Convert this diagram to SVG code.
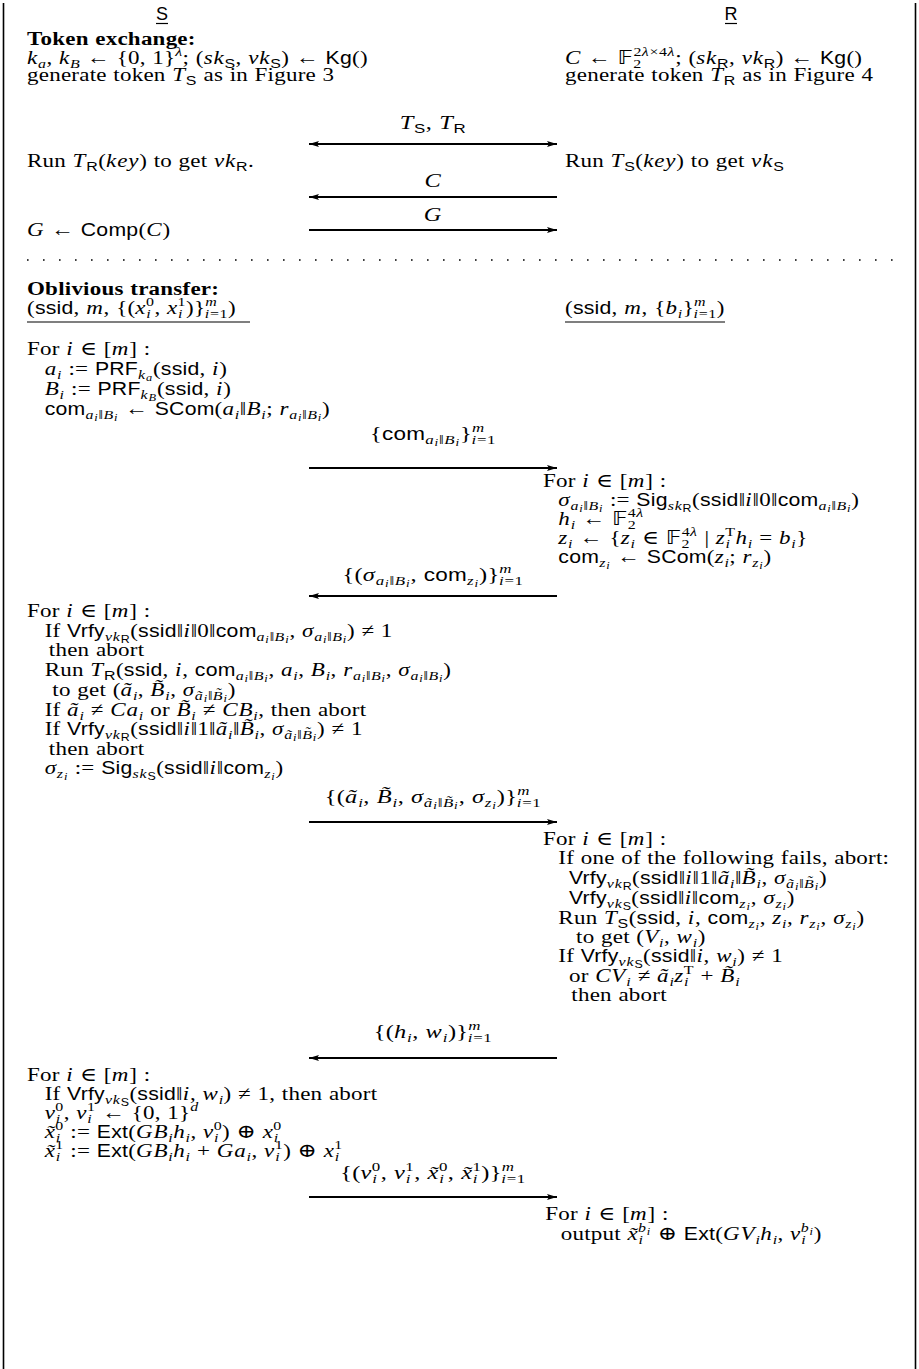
<svg xmlns="http://www.w3.org/2000/svg" width="919" height="1369" viewBox="0 0 919 1369">
<style>
text{font-family:"Liberation Serif","DejaVu Serif",serif;font-size:19.5px;fill:#000;letter-spacing:0.2px;word-spacing:0.5px}
.i{font-style:italic;letter-spacing:0.7px}
.b{font-weight:bold}
.F{font-family:"Liberation Sans","DejaVu Sans",sans-serif;font-size:18px}
.f{font-family:"Liberation Sans","DejaVu Sans",sans-serif}
.s{font-size:13.5px;baseline-shift:-4px;letter-spacing:0.4px}
.p{font-size:13.5px;baseline-shift:8px;letter-spacing:0.4px}
.ss{font-size:10.5px;baseline-shift:-2.5px}
.bb{font-family:"DejaVu Sans",sans-serif}
.lab{text-anchor:middle}
.rule{stroke:#000;stroke-width:1.2}
.msg{stroke:#000;stroke-width:2;fill:none}
.frame{stroke:#000;stroke-width:1.6}
</style>
<defs>
<marker id="ah" viewBox="0 0 10 6" refX="10" refY="3" markerWidth="10" markerHeight="6" markerUnits="userSpaceOnUse" orient="auto-start-reverse"><path d="M0,0 L10,3 L0,6 L2,3 z" fill="#000"/></marker>
</defs>
<rect width="919" height="1369" fill="#fff"/>
<g id="frame">
<line class="frame" x1="3.5" y1="3" x2="3.5" y2="1369"/>
<line class="frame" x1="915.5" y1="3" x2="915.5" y2="1369"/>
<line x1="27" y1="260" x2="906" y2="260" stroke="#000" stroke-width="1.6" stroke-dasharray="1.6 14.4"/>
</g>
<g id="party-S">
<text x="162" y="20" class="F lab">S</text>
<line class="rule" x1="156" y1="23.5" x2="168" y2="23.5"/>
</g>
<g id="party-R">
<text x="731" y="20" class="F lab">R</text>
<line class="rule" x1="725" y1="23.5" x2="737" y2="23.5"/>
</g>
<g id="S-token-exchange" transform="matrix(1.18 0 0 1 -4.86 0)">
<text x="27" y="45" class="b">Token exchange:</text>
<text x="27" y="64"><tspan class="i">k</tspan><tspan class="s i">a</tspan>, <tspan class="i">k</tspan><tspan class="s i">B</tspan> ← {0, 1}<tspan class="p i">λ</tspan>; (<tspan class="i">sk</tspan><tspan class="s f">S</tspan>, <tspan class="i">vk</tspan><tspan class="s f">S</tspan>) ← <tspan class="F">Kg</tspan>()</text>
<text x="27" y="81">generate token <tspan class="i">T</tspan><tspan class="s f">S</tspan> as in Figure 3</text>
<text x="27" y="167">Run <tspan class="i">T</tspan><tspan class="s f">R</tspan>(<tspan class="i">key</tspan>) to get <tspan class="i">vk</tspan><tspan class="s f">R</tspan>.</text>
<text x="27" y="236"><tspan class="i">G</tspan> ← <tspan class="F">Comp</tspan>(<tspan class="i">C</tspan>)</text>
</g>
<g id="R-token-exchange" transform="matrix(1.18 0 0 1 -101.7 0)">
<text x="565" y="64"><tspan class="i">C</tspan> ← <tspan class="bb">𝔽</tspan><tspan class="s">2</tspan><tspan class="p" dx="-7">2<tspan class="i">λ</tspan>×4<tspan class="i">λ</tspan></tspan>; (<tspan class="i">sk</tspan><tspan class="s f">R</tspan>, <tspan class="i">vk</tspan><tspan class="s f">R</tspan>) ← <tspan class="F">Kg</tspan>()</text>
<text x="565" y="81">generate token <tspan class="i">T</tspan><tspan class="s f">R</tspan> as in Figure 4</text>
<text x="565" y="167">Run <tspan class="i">T</tspan><tspan class="s f">S</tspan>(<tspan class="i">key</tspan>) to get <tspan class="i">vk</tspan><tspan class="s f">S</tspan></text>
</g>
<g id="S-ot-input">
<g transform="matrix(1.18 0 0 1 -4.86 0)">
<text x="27" y="295" class="b">Oblivious transfer:</text>
<text x="27" y="314">(<tspan class="F">ssid</tspan>, <tspan class="i">m</tspan>, {(<tspan class="i">x</tspan><tspan class="s i">i</tspan><tspan class="p" dx="-4.5">0</tspan>, <tspan class="i">x</tspan><tspan class="s i">i</tspan><tspan class="p" dx="-4.5">1</tspan>)}<tspan class="p i">m</tspan><tspan class="s" dx="-10.5"><tspan class="i">i</tspan>=1</tspan>)</text>
</g>
<line class="rule" x1="27" y1="322" x2="250" y2="322"/>
</g>
<g id="R-ot-input">
<text x="565" y="314" transform="matrix(1.18 0 0 1 -101.7 0)">(<tspan class="F">ssid</tspan>, <tspan class="i">m</tspan>, {<tspan class="i">b</tspan><tspan class="s i">i</tspan>}<tspan class="p i">m</tspan><tspan class="s" dx="-10.5"><tspan class="i">i</tspan>=1</tspan>)</text>
<line class="rule" x1="565" y1="322" x2="725" y2="322"/>
</g>
<g id="S-commit" transform="matrix(1.18 0 0 1 -4.86 0)">
<text x="27" y="355">For <tspan class="i">i</tspan> ∈ [<tspan class="i">m</tspan>] :</text>
<text x="42" y="375"><tspan class="i">a</tspan><tspan class="s i">i</tspan> := <tspan class="F">PRF</tspan><tspan class="s"><tspan class="i">k</tspan><tspan class="ss i">a</tspan></tspan>(<tspan class="F">ssid</tspan>, <tspan class="i">i</tspan>)</text>
<text x="42" y="395"><tspan class="i">B</tspan><tspan class="s i">i</tspan> := <tspan class="F">PRF</tspan><tspan class="s"><tspan class="i">k</tspan><tspan class="ss i">B</tspan></tspan>(<tspan class="F">ssid</tspan>, <tspan class="i">i</tspan>)</text>
<text x="42" y="415"><tspan class="F">com</tspan><tspan class="s"><tspan class="i">a</tspan><tspan class="ss i">i</tspan>‖<tspan class="i">B</tspan><tspan class="ss i">i</tspan></tspan> ← <tspan class="F">SCom</tspan>(<tspan class="i">a</tspan><tspan class="s i">i</tspan>‖<tspan class="i">B</tspan><tspan class="s i">i</tspan>; <tspan class="i">r</tspan><tspan class="s"><tspan class="i">a</tspan><tspan class="ss i">i</tspan>‖<tspan class="i">B</tspan><tspan class="ss i">i</tspan></tspan>)</text>
</g>
<g id="R-sign" transform="matrix(1.18 0 0 1 -97.74 0)">
<text x="543" y="487">For <tspan class="i">i</tspan> ∈ [<tspan class="i">m</tspan>] :</text>
<text x="556" y="506"><tspan class="i">σ</tspan><tspan class="s"><tspan class="i">a</tspan><tspan class="ss i">i</tspan>‖<tspan class="i">B</tspan><tspan class="ss i">i</tspan></tspan> := <tspan class="F">Sig</tspan><tspan class="s"><tspan class="i">sk</tspan><tspan class="ss f">R</tspan></tspan>(<tspan class="F">ssid</tspan>‖<tspan class="i">i</tspan>‖0‖<tspan class="F">com</tspan><tspan class="s"><tspan class="i">a</tspan><tspan class="ss i">i</tspan>‖<tspan class="i">B</tspan><tspan class="ss i">i</tspan></tspan>)</text>
<text x="556" y="525"><tspan class="i">h</tspan><tspan class="s i">i</tspan> ← <tspan class="bb">𝔽</tspan><tspan class="s">2</tspan><tspan class="p" dx="-7">4<tspan class="i">λ</tspan></tspan></text>
<text x="556" y="544"><tspan class="i">z</tspan><tspan class="s i">i</tspan> ← {<tspan class="i">z</tspan><tspan class="s i">i</tspan> ∈ <tspan class="bb">𝔽</tspan><tspan class="s">2</tspan><tspan class="p" dx="-7">4<tspan class="i">λ</tspan></tspan> | <tspan class="i">z</tspan><tspan class="s i">i</tspan><tspan class="p" dx="-4.5">T</tspan><tspan class="i">h</tspan><tspan class="s i">i</tspan> = <tspan class="i">b</tspan><tspan class="s i">i</tspan>}</text>
<text x="556" y="563"><tspan class="F">com</tspan><tspan class="s"><tspan class="i">z</tspan><tspan class="ss i">i</tspan></tspan> ← <tspan class="F">SCom</tspan>(<tspan class="i">z</tspan><tspan class="s i">i</tspan>; <tspan class="i">r</tspan><tspan class="s"><tspan class="i">z</tspan><tspan class="ss i">i</tspan></tspan>)</text>
</g>
<g id="S-verify" transform="matrix(1.18 0 0 1 -4.86 0)">
<text x="27" y="617">For <tspan class="i">i</tspan> ∈ [<tspan class="i">m</tspan>] :</text>
<text x="42" y="637">If <tspan class="F">Vrfy</tspan><tspan class="s"><tspan class="i">vk</tspan><tspan class="ss f">R</tspan></tspan>(<tspan class="F">ssid</tspan>‖<tspan class="i">i</tspan>‖0‖<tspan class="F">com</tspan><tspan class="s"><tspan class="i">a</tspan><tspan class="ss i">i</tspan>‖<tspan class="i">B</tspan><tspan class="ss i">i</tspan></tspan>, <tspan class="i">σ</tspan><tspan class="s"><tspan class="i">a</tspan><tspan class="ss i">i</tspan>‖<tspan class="i">B</tspan><tspan class="ss i">i</tspan></tspan>) ≠ 1</text>
<text x="45.5" y="656">then abort</text>
<text x="42" y="676">Run <tspan class="i">T</tspan><tspan class="s f">R</tspan>(<tspan class="F">ssid</tspan>, <tspan class="i">i</tspan>, <tspan class="F">com</tspan><tspan class="s"><tspan class="i">a</tspan><tspan class="ss i">i</tspan>‖<tspan class="i">B</tspan><tspan class="ss i">i</tspan></tspan>, <tspan class="i">a</tspan><tspan class="s i">i</tspan>, <tspan class="i">B</tspan><tspan class="s i">i</tspan>, <tspan class="i">r</tspan><tspan class="s"><tspan class="i">a</tspan><tspan class="ss i">i</tspan>‖<tspan class="i">B</tspan><tspan class="ss i">i</tspan></tspan>, <tspan class="i">σ</tspan><tspan class="s"><tspan class="i">a</tspan><tspan class="ss i">i</tspan>‖<tspan class="i">B</tspan><tspan class="ss i">i</tspan></tspan>)</text>
<text x="48.5" y="696">to get (<tspan class="i">ã</tspan><tspan class="s i">i</tspan>, <tspan class="i">B̃</tspan><tspan class="s i">i</tspan>, <tspan class="i">σ</tspan><tspan class="s"><tspan class="i">ã</tspan><tspan class="ss i">i</tspan>‖<tspan class="i">B̃</tspan><tspan class="ss i">i</tspan></tspan>)</text>
<text x="42" y="716">If <tspan class="i">ã</tspan><tspan class="s i">i</tspan> ≠ <tspan class="i">Ca</tspan><tspan class="s i">i</tspan> or <tspan class="i">B̃</tspan><tspan class="s i">i</tspan> ≠ <tspan class="i">CB</tspan><tspan class="s i">i</tspan>, then abort</text>
<text x="42" y="735">If <tspan class="F">Vrfy</tspan><tspan class="s"><tspan class="i">vk</tspan><tspan class="ss f">R</tspan></tspan>(<tspan class="F">ssid</tspan>‖<tspan class="i">i</tspan>‖1‖<tspan class="i">ã</tspan><tspan class="s i">i</tspan>‖<tspan class="i">B̃</tspan><tspan class="s i">i</tspan>, <tspan class="i">σ</tspan><tspan class="s"><tspan class="i">ã</tspan><tspan class="ss i">i</tspan>‖<tspan class="i">B̃</tspan><tspan class="ss i">i</tspan></tspan>) ≠ 1</text>
<text x="45.5" y="755">then abort</text>
<text x="42" y="774"><tspan class="i">σ</tspan><tspan class="s"><tspan class="i">z</tspan><tspan class="ss i">i</tspan></tspan> := <tspan class="F">Sig</tspan><tspan class="s"><tspan class="i">sk</tspan><tspan class="ss f">S</tspan></tspan>(<tspan class="F">ssid</tspan>‖<tspan class="i">i</tspan>‖<tspan class="F">com</tspan><tspan class="s"><tspan class="i">z</tspan><tspan class="ss i">i</tspan></tspan>)</text>
</g>
<g id="R-check" transform="matrix(1.18 0 0 1 -97.74 0)">
<text x="543" y="845">For <tspan class="i">i</tspan> ∈ [<tspan class="i">m</tspan>] :</text>
<text x="556" y="864">If one of the following fails, abort:</text>
<text x="565" y="884"><tspan class="F">Vrfy</tspan><tspan class="s"><tspan class="i">vk</tspan><tspan class="ss f">R</tspan></tspan>(<tspan class="F">ssid</tspan>‖<tspan class="i">i</tspan>‖1‖<tspan class="i">ã</tspan><tspan class="s i">i</tspan>‖<tspan class="i">B̃</tspan><tspan class="s i">i</tspan>, <tspan class="i">σ</tspan><tspan class="s"><tspan class="i">ã</tspan><tspan class="ss i">i</tspan>‖<tspan class="i">B̃</tspan><tspan class="ss i">i</tspan></tspan>)</text>
<text x="565" y="904"><tspan class="F">Vrfy</tspan><tspan class="s"><tspan class="i">vk</tspan><tspan class="ss f">S</tspan></tspan>(<tspan class="F">ssid</tspan>‖<tspan class="i">i</tspan>‖<tspan class="F">com</tspan><tspan class="s"><tspan class="i">z</tspan><tspan class="ss i">i</tspan></tspan>, <tspan class="i">σ</tspan><tspan class="s"><tspan class="i">z</tspan><tspan class="ss i">i</tspan></tspan>)</text>
<text x="556" y="924">Run <tspan class="i">T</tspan><tspan class="s f">S</tspan>(<tspan class="F">ssid</tspan>, <tspan class="i">i</tspan>, <tspan class="F">com</tspan><tspan class="s"><tspan class="i">z</tspan><tspan class="ss i">i</tspan></tspan>, <tspan class="i">z</tspan><tspan class="s i">i</tspan>, <tspan class="i">r</tspan><tspan class="s"><tspan class="i">z</tspan><tspan class="ss i">i</tspan></tspan>, <tspan class="i">σ</tspan><tspan class="s"><tspan class="i">z</tspan><tspan class="ss i">i</tspan></tspan>)</text>
<text x="571" y="943">to get (<tspan class="i">V</tspan><tspan class="s i">i</tspan>, <tspan class="i">w</tspan><tspan class="s i">i</tspan>)</text>
<text x="556" y="962">If <tspan class="F">Vrfy</tspan><tspan class="s"><tspan class="i">vk</tspan><tspan class="ss f">S</tspan></tspan>(<tspan class="F">ssid</tspan>‖<tspan class="i">i</tspan>, <tspan class="i">w</tspan><tspan class="s i">i</tspan>) ≠ 1</text>
<text x="565" y="982">or <tspan class="i">CV</tspan><tspan class="s i">i</tspan> ≠ <tspan class="i">ã</tspan><tspan class="s i">i</tspan><tspan class="i">z</tspan><tspan class="s i">i</tspan><tspan class="p" dx="-4.5">T</tspan> + <tspan class="i">B̃</tspan><tspan class="s i">i</tspan></text>
<text x="567" y="1001">then abort</text>
</g>
<g id="S-encrypt" transform="matrix(1.18 0 0 1 -4.86 0)">
<text x="27" y="1081">For <tspan class="i">i</tspan> ∈ [<tspan class="i">m</tspan>] :</text>
<text x="42" y="1100">If <tspan class="F">Vrfy</tspan><tspan class="s"><tspan class="i">vk</tspan><tspan class="ss f">S</tspan></tspan>(<tspan class="F">ssid</tspan>‖<tspan class="i">i</tspan>, <tspan class="i">w</tspan><tspan class="s i">i</tspan>) ≠ 1, then abort</text>
<text x="42" y="1119"><tspan class="i">v</tspan><tspan class="s i">i</tspan><tspan class="p" dx="-4.5">0</tspan>, <tspan class="i">v</tspan><tspan class="s i">i</tspan><tspan class="p" dx="-4.5">1</tspan> ← {0, 1}<tspan class="p i">d</tspan></text>
<text x="42" y="1138"><tspan class="i">x̃</tspan><tspan class="s i">i</tspan><tspan class="p" dx="-4.5">0</tspan> := <tspan class="F">Ext</tspan>(<tspan class="i">GB</tspan><tspan class="s i">i</tspan><tspan class="i">h</tspan><tspan class="s i">i</tspan>, <tspan class="i">v</tspan><tspan class="s i">i</tspan><tspan class="p" dx="-4.5">0</tspan>) ⊕ <tspan class="i">x</tspan><tspan class="s i">i</tspan><tspan class="p" dx="-4.5">0</tspan></text>
<text x="42" y="1157"><tspan class="i">x̃</tspan><tspan class="s i">i</tspan><tspan class="p" dx="-4.5">1</tspan> := <tspan class="F">Ext</tspan>(<tspan class="i">GB</tspan><tspan class="s i">i</tspan><tspan class="i">h</tspan><tspan class="s i">i</tspan> + <tspan class="i">Ga</tspan><tspan class="s i">i</tspan>, <tspan class="i">v</tspan><tspan class="s i">i</tspan><tspan class="p" dx="-4.5">1</tspan>) ⊕ <tspan class="i">x</tspan><tspan class="s i">i</tspan><tspan class="p" dx="-4.5">1</tspan></text>
</g>
<g id="R-output" transform="matrix(1.18 0 0 1 -97.74 0)">
<text x="545" y="1220">For <tspan class="i">i</tspan> ∈ [<tspan class="i">m</tspan>] :</text>
<text x="558" y="1240">output <tspan class="i">x̃</tspan><tspan class="s i">i</tspan><tspan class="p" dx="-4.5"><tspan class="i">b</tspan><tspan class="ss i">i</tspan></tspan> ⊕ <tspan class="F">Ext</tspan>(<tspan class="i">GV</tspan><tspan class="s i">i</tspan><tspan class="i">h</tspan><tspan class="s i">i</tspan>, <tspan class="i">v</tspan><tspan class="s i">i</tspan><tspan class="p" dx="-4.5"><tspan class="i">b</tspan><tspan class="ss i">i</tspan></tspan>)</text>
</g>
<g id="connectors">
<line class="msg" x1="309" y1="144" x2="557" y2="144" marker-start="url(#ah)" marker-end="url(#ah)"/>
<line class="msg" x1="557" y1="197" x2="309" y2="197" marker-end="url(#ah)"/>
<line class="msg" x1="309" y1="230" x2="557" y2="230" marker-end="url(#ah)"/>
<line class="msg" x1="309" y1="468" x2="557" y2="468" marker-end="url(#ah)"/>
<line class="msg" x1="557" y1="596" x2="309" y2="596" marker-end="url(#ah)"/>
<line class="msg" x1="309" y1="822" x2="557" y2="822" marker-end="url(#ah)" stroke-width="2.6"/>
<line class="msg" x1="557" y1="1058" x2="309" y2="1058" marker-end="url(#ah)"/>
<line class="msg" x1="309" y1="1197" x2="557" y2="1197" marker-end="url(#ah)"/>
<g transform="matrix(1.25 0 0 1 -108.25 0)">
<text x="433" y="129" class="lab"><tspan class="i">T</tspan><tspan class="s f">S</tspan>, <tspan class="i">T</tspan><tspan class="s f">R</tspan></text>
<text x="433" y="187" class="lab i">C</text>
<text x="433" y="221" class="lab i">G</text>
<text x="433" y="440" class="lab">{<tspan class="F">com</tspan><tspan class="s"><tspan class="i">a</tspan><tspan class="ss i">i</tspan>‖<tspan class="i">B</tspan><tspan class="ss i">i</tspan></tspan>}<tspan class="p i">m</tspan><tspan class="s" dx="-10.5"><tspan class="i">i</tspan>=1</tspan></text>
<text x="433" y="581" class="lab">{(<tspan class="i">σ</tspan><tspan class="s"><tspan class="i">a</tspan><tspan class="ss i">i</tspan>‖<tspan class="i">B</tspan><tspan class="ss i">i</tspan></tspan>, <tspan class="F">com</tspan><tspan class="s"><tspan class="i">z</tspan><tspan class="ss i">i</tspan></tspan>)}<tspan class="p i">m</tspan><tspan class="s" dx="-10.5"><tspan class="i">i</tspan>=1</tspan></text>
<text x="433" y="803" class="lab">{(<tspan class="i">ã</tspan><tspan class="s i">i</tspan>, <tspan class="i">B̃</tspan><tspan class="s i">i</tspan>, <tspan class="i">σ</tspan><tspan class="s"><tspan class="i">ã</tspan><tspan class="ss i">i</tspan>‖<tspan class="i">B̃</tspan><tspan class="ss i">i</tspan></tspan>, <tspan class="i">σ</tspan><tspan class="s"><tspan class="i">z</tspan><tspan class="ss i">i</tspan></tspan>)}<tspan class="p i">m</tspan><tspan class="s" dx="-10.5"><tspan class="i">i</tspan>=1</tspan></text>
<text x="433" y="1038" class="lab">{(<tspan class="i">h</tspan><tspan class="s i">i</tspan>, <tspan class="i">w</tspan><tspan class="s i">i</tspan>)}<tspan class="p i">m</tspan><tspan class="s" dx="-10.5"><tspan class="i">i</tspan>=1</tspan></text>
<text x="433" y="1179" class="lab">{(<tspan class="i">v</tspan><tspan class="s i">i</tspan><tspan class="p" dx="-4.5">0</tspan>, <tspan class="i">v</tspan><tspan class="s i">i</tspan><tspan class="p" dx="-4.5">1</tspan>, <tspan class="i">x̃</tspan><tspan class="s i">i</tspan><tspan class="p" dx="-4.5">0</tspan>, <tspan class="i">x̃</tspan><tspan class="s i">i</tspan><tspan class="p" dx="-4.5">1</tspan>)}<tspan class="p i">m</tspan><tspan class="s" dx="-10.5"><tspan class="i">i</tspan>=1</tspan></text>
</g>
</g>
</svg>
